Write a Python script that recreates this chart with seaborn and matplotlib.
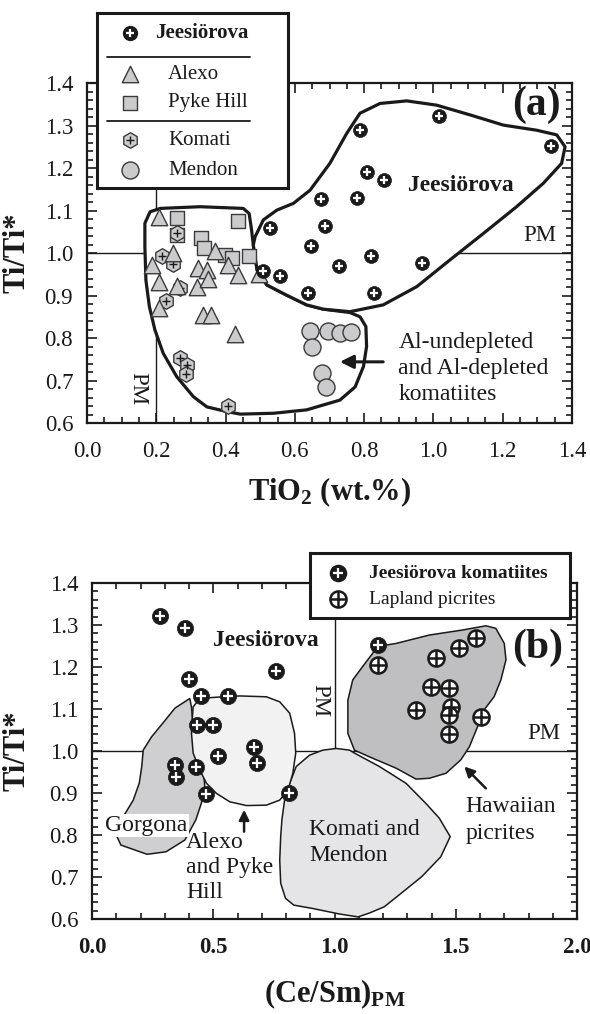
import numpy as np
import pandas as pd
import matplotlib
matplotlib.use("Agg")
import matplotlib.pyplot as plt
import seaborn as sns
from matplotlib.ticker import MultipleLocator, FormatStrFormatter

# ---------------- data : panel (a) ----------------
jee_a_tio2 = [1.017, 0.788, 1.339, 0.809, 0.857, 0.675, 0.779, 0.687, 0.528, 0.647,
              0.819, 0.966, 0.728, 0.557, 0.509, 0.639, 0.828]
jee_a_ti = [1.322, 1.289, 1.252, 1.191, 1.172, 1.128, 1.129, 1.064, 1.060, 1.017,
            0.993, 0.976, 0.970, 0.946, 0.958, 0.907, 0.907]

alexo_tio2 = [0.209, 0.187, 0.249, 0.209, 0.259, 0.317, 0.209, 0.336, 0.358, 0.427,
              0.321, 0.346, 0.369, 0.408, 0.437, 0.497, 0.350]
alexo_ti = [1.085, 0.972, 1.001, 0.931, 0.922, 0.921, 0.870, 0.854, 0.854, 0.809,
            0.964, 0.960, 1.005, 0.972, 0.948, 0.951, 0.940]

pyke_tio2 = [0.259, 0.259, 0.328, 0.338, 0.398, 0.419, 0.437, 0.468]
pyke_ti = [1.082, 1.042, 1.035, 1.011, 0.995, 0.988, 1.076, 0.993]

komati_tio2 = [0.259, 0.216, 0.247, 0.268, 0.228, 0.268, 0.288, 0.286, 0.408]
komati_ti = [1.046, 0.993, 0.974, 0.917, 0.888, 0.752, 0.736, 0.715, 0.640]

mendon_tio2 = [0.644, 0.697, 0.730, 0.761, 0.649, 0.677, 0.689]
mendon_ti = [0.817, 0.817, 0.813, 0.815, 0.778, 0.717, 0.685]

# field outlines, panel (a)
jee_field_x = [0.480, 0.485, 0.509, 0.548, 0.596, 0.644, 0.701, 0.750, 0.788, 0.846,
               0.923, 1.009, 1.106, 1.202, 1.298, 1.356, 1.380, 1.370, 1.317, 1.240,
               1.144, 1.048, 0.952, 0.855, 0.759, 0.682, 0.634, 0.576, 0.519, 0.491]
jee_field_y = [1.019, 1.038, 1.078, 1.101, 1.117, 1.148, 1.211, 1.282, 1.329, 1.352,
               1.358, 1.348, 1.325, 1.301, 1.289, 1.278, 1.250, 1.211, 1.164, 1.109,
               1.046, 0.984, 0.921, 0.878, 0.862, 0.868, 0.878, 0.901, 0.925, 0.960]

al_field_x = [0.167, 0.182, 0.211, 0.326, 0.451, 0.468, 0.475, 0.480, 0.491, 0.519,
              0.576, 0.634, 0.682, 0.759, 0.788, 0.805, 0.807, 0.798, 0.774, 0.730,
              0.634, 0.538, 0.442, 0.403, 0.346, 0.307, 0.259, 0.220, 0.196, 0.180,
              0.170, 0.167]
al_field_y = [1.070, 1.097, 1.105, 1.109, 1.105, 1.093, 1.054, 1.019, 0.960, 0.925,
              0.901, 0.878, 0.868, 0.860, 0.850, 0.827, 0.780, 0.733, 0.685, 0.654,
              0.631, 0.623, 0.621, 0.627, 0.638, 0.662, 0.709, 0.764, 0.819, 0.874,
              0.936, 1.015]

# ---------------- data : panel (b) ----------------
jee_b_cesm = [0.280, 0.383, 0.401, 0.757, 0.451, 0.561, 0.431, 0.497, 0.668, 0.682,
              0.520, 0.342, 0.346, 0.428, 0.472, 0.812, 1.178]
jee_b_ti = [1.322, 1.292, 1.171, 1.190, 1.131, 1.131, 1.062, 1.062, 1.010, 0.971,
            0.988, 0.967, 0.939, 0.961, 0.898, 0.899, 1.252]

lap_cesm = [1.178, 1.419, 1.514, 1.583, 1.398, 1.473, 1.336, 1.480, 1.471, 1.604, 1.471]
lap_ti = [1.205, 1.221, 1.245, 1.268, 1.153, 1.149, 1.098, 1.104, 1.086, 1.080, 1.040]

gorgona_x = [0.403, 0.342, 0.293, 0.246, 0.211, 0.205, 0.195, 0.170, 0.129, 0.108,
             0.103, 0.119, 0.227, 0.305, 0.383, 0.428, 0.451, 0.465, 0.458, 0.417, 0.410]
gorgona_y = [1.125, 1.102, 1.067, 1.034, 1.002, 0.963, 0.924, 0.883, 0.844, 0.805,
             0.796, 0.776, 0.754, 0.760, 0.788, 0.836, 0.876, 0.915, 0.963, 1.058, 1.105]

alexo_field_x = [0.417, 0.444, 0.513, 0.609, 0.719, 0.774, 0.815, 0.835, 0.840, 0.828,
                 0.808, 0.774, 0.719, 0.637, 0.568, 0.513, 0.472, 0.444, 0.417, 0.410, 0.414]
alexo_field_y = [1.105, 1.125, 1.128, 1.131, 1.129, 1.117, 1.090, 1.042, 0.995, 0.947,
                 0.907, 0.883, 0.871, 0.870, 0.879, 0.899, 0.923, 0.955, 0.995, 1.042, 1.082]

komati_field_x = [0.815, 0.842, 0.897, 0.952, 1.007, 1.062, 1.082, 1.185, 1.295, 1.377,
                  1.432, 1.477, 1.438, 1.360, 1.283, 1.205, 1.143, 1.097, 1.019, 0.910,
                  0.832, 0.798, 0.778, 0.774, 0.778, 0.783, 0.794]
komati_field_y = [0.923, 0.963, 0.990, 1.002, 1.006, 1.002, 0.995, 0.963, 0.923, 0.875,
                  0.840, 0.796, 0.748, 0.701, 0.665, 0.629, 0.614, 0.605, 0.612, 0.625,
                  0.633, 0.649, 0.685, 0.740, 0.796, 0.836, 0.883]

hawaii_x = [1.171, 1.254, 1.391, 1.528, 1.624, 1.665, 1.700, 1.707, 1.686, 1.658,
            1.617, 1.590, 1.556, 1.521, 1.460, 1.391, 1.336, 1.254, 1.144, 1.082,
            1.055, 1.055, 1.075, 1.116, 1.158]
hawaii_y = [1.248, 1.256, 1.276, 1.288, 1.298, 1.292, 1.256, 1.217, 1.169, 1.129,
            1.098, 1.058, 1.010, 0.979, 0.947, 0.935, 0.933, 0.959, 0.986, 1.002,
            1.042, 1.121, 1.169, 1.201, 1.233]

xticks_a = [0.0, 0.2, 0.4, 0.6, 0.8, 1.0, 1.2, 1.4]
xticks_b = [0.0, 0.5, 1.0, 1.5, 2.0]
yticks = [0.6, 0.7, 0.8, 0.9, 1.0, 1.1, 1.2, 1.3, 1.4]

# ---------------- style ----------------
sns.set_theme(style="ticks")
plt.rcParams["font.family"] = ["Liberation Serif", "DejaVu Serif"]
plt.rcParams["mathtext.fontset"] = "custom"
plt.rcParams["mathtext.rm"] = "Liberation Serif"
plt.rcParams["mathtext.bf"] = "Liberation Serif:bold"
plt.rcParams["mathtext.it"] = "Liberation Serif:italic"

GREY = "#cbcbcd"
EDGE = "#3a3a3a"
INK = "#1a1a1a"

fig = plt.figure(figsize=(5.9, 10.14), dpi=100)
axa = fig.add_axes([0.1475, 0.5828, 0.822, 0.3353])
axb = fig.add_axes([0.156, 0.0937, 0.822, 0.3314])


def style_axes(ax, xmaj, xmin):
    ax.set_ylim(0.6, 1.4)
    ax.yaxis.set_major_locator(MultipleLocator(0.1))
    ax.yaxis.set_minor_locator(MultipleLocator(0.02))
    ax.xaxis.set_major_locator(MultipleLocator(xmaj))
    ax.xaxis.set_minor_locator(MultipleLocator(xmin))
    ax.xaxis.set_major_formatter(FormatStrFormatter("%.1f"))
    ax.yaxis.set_major_formatter(FormatStrFormatter("%.1f"))
    ax.tick_params(which="both", direction="in", top=True, right=True,
                   width=1.2, color=INK, labelcolor=INK)
    ax.tick_params(which="major", length=7, labelsize=16.5)
    ax.tick_params(axis="x", which="major", pad=13)
    ax.tick_params(axis="y", which="major", pad=10)
    ax.tick_params(which="minor", length=4)
    for s in ax.spines.values():
        s.set_linewidth(1.6)
        s.set_color(INK)
    ax.set_facecolor("white")


# ================= panel (a) =================
axa.set_xlim(0, 1.4)
style_axes(axa, 0.2, 0.05)

axa.axhline(1.0, color=INK, lw=1.0, zorder=1)
axa.axvline(0.2, color=INK, lw=1.0, zorder=1)
axa.fill(al_field_x, al_field_y, facecolor="white", edgecolor=INK, lw=2.3, zorder=2,
         joinstyle="round")
axa.fill(jee_field_x, jee_field_y, facecolor="white", edgecolor=INK, lw=2.3, zorder=2,
         joinstyle="round")

df_pyke = pd.DataFrame({"x": pyke_tio2, "y": pyke_ti})
df_kom = pd.DataFrame({"x": komati_tio2, "y": komati_ti})
df_alx = pd.DataFrame({"x": alexo_tio2, "y": alexo_ti})
df_men = pd.DataFrame({"x": mendon_tio2, "y": mendon_ti})
df_jea = pd.DataFrame({"x": jee_a_tio2, "y": jee_a_ti})

sns.scatterplot(data=df_pyke, x="x", y="y", marker="s", s=105, color=GREY,
                edgecolor=EDGE, linewidth=1.0, ax=axa, zorder=3, legend=False)
sns.scatterplot(data=df_kom, x="x", y="y", marker="h", s=125, color=GREY,
                edgecolor=EDGE, linewidth=1.0, ax=axa, zorder=4, legend=False)
axa.scatter(df_kom["x"], df_kom["y"], marker="+", s=30, color=INK, linewidths=1.0, zorder=4.1)
sns.scatterplot(data=df_alx, x="x", y="y", marker="^", s=140, color=GREY,
                edgecolor=EDGE, linewidth=1.0, ax=axa, zorder=5, legend=False)
sns.scatterplot(data=df_men, x="x", y="y", marker="o", s=150, color=GREY,
                edgecolor=EDGE, linewidth=1.0, ax=axa, zorder=5, legend=False)
sns.scatterplot(data=df_jea, x="x", y="y", marker="o", s=100, color=INK,
                edgecolor=INK, linewidth=0.5, ax=axa, zorder=6, legend=False)
axa.scatter(df_jea["x"], df_jea["y"], marker="+", s=28, color="white", linewidths=1.6, zorder=6.1)

axa.text(1.298, 1.348, "(a)", fontsize=30, fontweight="bold", ha="center", va="center",
         color=INK, zorder=7)
axa.text(1.079, 1.160, "Jeesiörova", fontsize=17, fontweight="bold", ha="center",
         va="center", color=INK, zorder=7)
axa.text(1.308, 1.042, "PM", fontsize=16.5, ha="center", va="center", color=INK, zorder=7)
axa.text(0.148, 0.682, "PM", fontsize=16.5, ha="center", va="center", rotation=270,
         color=INK, zorder=7)
axa.text(0.899, 0.729, "Al-undepleted\nand Al-depleted\nkomatiites", fontsize=17,
         ha="left", va="center", linespacing=1.3, color=INK, zorder=7)
axa.annotate("", xy=(0.730, 0.744), xytext=(0.855, 0.744),
             arrowprops=dict(arrowstyle="-|>", lw=2.2, color=INK, mutation_scale=20,
                             shrinkA=0, shrinkB=0), zorder=7)

axa.set_xlabel(r"TiO$_\mathbf{2}$ (wt.%)", fontsize=22, fontweight="bold", color=INK)
axa.set_ylabel("Ti/Ti*", fontsize=22, fontweight="bold", color=INK)
axa.xaxis.set_label_coords(0.5, -0.155)
axa.yaxis.set_label_coords(-0.115, 0.5)

# legend box (a)
lga = fig.add_axes([97 / 590, 1 - 188 / 1014, 191 / 590, 175.3 / 1014], zorder=10)
lga.set_xlim(0, 191)
lga.set_ylim(175.3, 0)
lga.set_xticks([])
lga.set_yticks([])
lga.set_facecolor("white")
for s in lga.spines.values():
    s.set_linewidth(2.2)
    s.set_color(INK)
mx = 33
lga.scatter([mx], [20.6], marker="o", s=100, color=INK)
lga.scatter([mx], [20.6], marker="+", s=28, color="white", linewidths=1.6)
lga.text(58, 20.6, "Jeesiörova", fontsize=15, fontweight="bold", va="center", color=INK)
lga.plot([10, 153], [44, 44], color=INK, lw=1.3)
lga.scatter([mx], [61.3], marker="^", s=140, color=GREY, edgecolor=EDGE, linewidths=1.0)
lga.text(71, 61.3, "Alexo", fontsize=15, va="center", color=INK)
lga.scatter([mx], [90], marker="s", s=105, color=GREY, edgecolor=EDGE, linewidths=1.0)
lga.text(71, 90, "Pyke Hill", fontsize=15, va="center", color=INK)
lga.plot([10, 153], [108, 108], color=INK, lw=1.3)
lga.scatter([mx], [127.3], marker="h", s=125, color=GREY, edgecolor=EDGE, linewidths=1.0)
lga.scatter([mx], [127.3], marker="+", s=30, color=INK, linewidths=1.0)
lga.text(71, 127.3, "Komati", fontsize=15, va="center", color=INK)
lga.scatter([mx], [157.3], marker="o", s=150, color=GREY, edgecolor=EDGE, linewidths=1.0)
lga.text(71, 157.3, "Mendon", fontsize=15, va="center", color=INK)

# ================= panel (b) =================
axb.set_xlim(0, 2.0)
style_axes(axb, 0.5, 0.1)
for lab in axb.get_xticklabels():
    lab.set_fontweight("bold")

axb.axhline(1.0, color=INK, lw=1.0, zorder=1)
axb.plot([1.0, 1.0], [1.0, 1.4], color=INK, lw=1.0, zorder=1)

axb.fill(gorgona_x, gorgona_y, facecolor="#cfcfd1", edgecolor=INK, lw=1.1, zorder=2)
axb.fill(alexo_field_x, alexo_field_y, facecolor="#f2f2f2", edgecolor=INK, lw=1.1, zorder=2.1)
axb.fill(komati_field_x, komati_field_y, facecolor="#e5e5e7", edgecolor=INK, lw=1.1, zorder=2)
axb.fill(hawaii_x, hawaii_y, facecolor="#bfbfc1", edgecolor=INK, lw=1.1, zorder=2)

df_lap = pd.DataFrame({"x": lap_cesm, "y": lap_ti})
df_jeb = pd.DataFrame({"x": jee_b_cesm, "y": jee_b_ti})
sns.scatterplot(data=df_lap, x="x", y="y", marker="o", s=135, color="white",
                edgecolor=INK, linewidth=1.8, ax=axb, zorder=4, legend=False)
axb.scatter(df_lap["x"], df_lap["y"], marker="+", s=125, color=INK, linewidths=1.8, zorder=4.1)
sns.scatterplot(data=df_jeb, x="x", y="y", marker="o", s=135, color=INK,
                edgecolor=INK, linewidth=0.5, ax=axb, zorder=5, legend=False)
axb.scatter(df_jeb["x"], df_jeb["y"], marker="+", s=45, color="white", linewidths=1.6, zorder=5.1)

axb.text(0.715, 1.264, "Jeesiörova", fontsize=17, fontweight="bold", ha="center",
         va="center", color=INK, zorder=6)
axb.text(0.938, 1.121, "PM", fontsize=16.5, ha="center", va="center", rotation=270,
         color=INK, zorder=6)
axb.text(1.864, 1.042, "PM", fontsize=16.5, ha="center", va="center", color=INK, zorder=6)
axb.text(1.837, 1.245, "(b)", fontsize=30, fontweight="bold", ha="center", va="center",
         color=INK, zorder=6)
axb.text(0.225, 0.822, "Gorgona", fontsize=17, ha="center", va="center", color=INK, zorder=6,
         bbox=dict(facecolor="white", edgecolor="none", pad=0.8))
axb.text(0.387, 0.722, "Alexo\nand Pyke\nHill", fontsize=17, ha="left", va="center",
         linespacing=1.25, color=INK, zorder=6)
axb.text(0.895, 0.782, "Komati and\nMendon", fontsize=17, ha="left", va="center",
         linespacing=1.3, color=INK, zorder=6)
axb.text(1.539, 0.836, "Hawaiian\npicrites", fontsize=17, ha="left", va="center",
         linespacing=1.4, color=INK, zorder=6)
axb.annotate("", xy=(0.627, 0.860), xytext=(0.627, 0.808),
             arrowprops=dict(arrowstyle="-|>", lw=1.8, color=INK, mutation_scale=15,
                             shrinkA=0, shrinkB=0), zorder=6)
axb.annotate("", xy=(1.535, 0.963), xytext=(1.624, 0.911),
             arrowprops=dict(arrowstyle="-|>", lw=1.8, color=INK, mutation_scale=15,
                             shrinkA=0, shrinkB=0), zorder=6)

axb.set_xlabel(r"(Ce/Sm)$_\mathbf{PM}$", fontsize=22, fontweight="bold", color=INK)
axb.set_ylabel("Ti/Ti*", fontsize=22, fontweight="bold", color=INK)
axb.xaxis.set_label_coords(0.5, -0.175)
axb.yaxis.set_label_coords(-0.124, 0.5)

# legend box (b)
lgb = fig.add_axes([310 / 590, 1 - 618 / 1014, 260 / 590, 65 / 1014], zorder=10)
lgb.set_xlim(0, 260)
lgb.set_ylim(65, 0)
lgb.set_xticks([])
lgb.set_yticks([])
lgb.set_facecolor("white")
for s in lgb.spines.values():
    s.set_linewidth(2.2)
    s.set_color(INK)
lgb.scatter([28.3], [20.3], marker="o", s=135, color=INK)
lgb.scatter([28.3], [20.3], marker="+", s=45, color="white", linewidths=1.6)
lgb.text(59.3, 20.3, "Jeesiörova komatiites", fontsize=14, fontweight="bold",
         va="center", color=INK)
lgb.scatter([28.3], [46], marker="o", s=135, color="white", edgecolor=INK, linewidths=1.8)
lgb.scatter([28.3], [46], marker="+", s=125, color=INK, linewidths=1.8)
lgb.text(59.3, 46, "Lapland picrites", fontsize=14, va="center", color=INK)

fig.savefig("out.png", dpi=100, facecolor="white")
